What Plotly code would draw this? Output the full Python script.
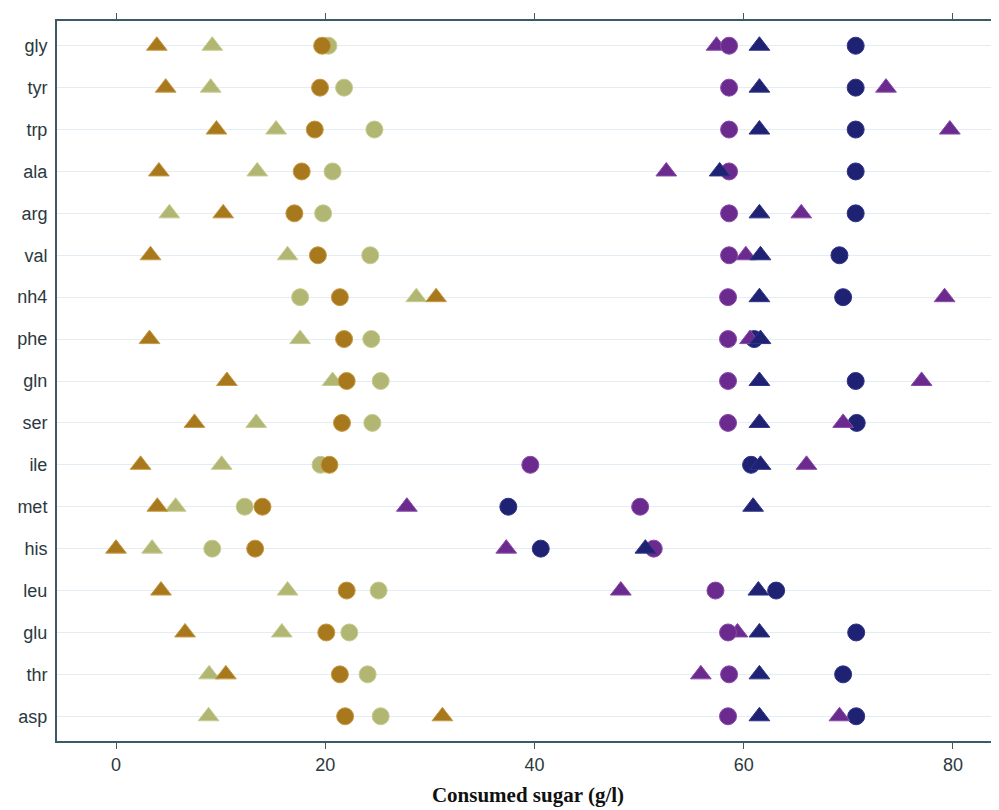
import plotly.graph_objects as go

categories = ["gly", "tyr", "trp", "ala", "arg", "val", "nh4", "phe", "gln",
              "ser", "ile", "met", "his", "leu", "glu", "thr", "asp"]

gold_tri   = [3.9, 4.75, 9.6, 4.1, 10.25, 3.3, 30.6, 3.2, 10.6, 7.5, 2.35, 3.95, 0.0, 4.3, 6.6, 10.5, 31.2]
gold_circ  = [19.7, 19.5, 19.0, 17.75, 17.05, 19.3, 21.4, 21.8, 22.05, 21.6, 20.4, 14.0, 13.3, 22.05, 20.1, 21.4, 21.9]
khaki_tri  = [9.2, 9.05, 15.3, 13.5, 5.1, 16.4, 28.7, 17.6, 20.7, 13.4, 10.1, 5.7, 3.45, 16.4, 15.85, 8.9, 8.85]
khaki_circ = [20.3, 21.8, 24.7, 20.7, 19.8, 24.3, 17.6, 24.4, 25.3, 24.5, 19.55, 12.3, 9.2, 25.1, 22.3, 24.05, 25.3]
purple_tri = [57.4, 73.6, 79.7, 52.6, 65.5, 60.2, 79.2, 60.6, 77.0, 69.5, 66.0, 27.8, 37.3, 48.25, 59.4, 55.9, 69.15]
purple_circ= [58.6, 58.6, 58.6, 58.6, 58.6, 58.6, 58.5, 58.5, 58.5, 58.5, 39.6, 50.1, 51.4, 57.3, 58.5, 58.6, 58.5]
navy_tri   = [61.5, 61.5, 61.5, 57.7, 61.5, 61.6, 61.5, 61.6, 61.5, 61.5, 61.6, 60.9, 50.6, 61.4, 61.5, 61.5, 61.5]
navy_circ  = [70.7, 70.7, 70.7, 70.7, 70.7, 69.15, 69.5, 61.0, 70.7, 70.8, 60.7, 37.5, 40.6, 63.1, 70.75, 69.5, 70.75]

x_ticks = [0, 20, 40, 60, 80]

GOLD, GOLD_L = "#A8781D", "#C69A45"
KHAKI, KHAKI_L = "#B2B673", "#C8CB8F"
PURPLE, PURPLE_L = "#6B2B8E", "#8A4AAA"
NAVY, NAVY_L = "#1F2272", "#2E3488"

series = [
    ("khaki triangle", khaki_tri, "triangle-up", KHAKI, KHAKI_L, 18),
    ("khaki circle", khaki_circ, "circle", KHAKI, KHAKI_L, 17),
    ("gold triangle", gold_tri, "triangle-up", GOLD, GOLD_L, 18),
    ("gold circle", gold_circ, "circle", GOLD, GOLD_L, 17),
    ("navy circle", navy_circ, "circle", NAVY, NAVY_L, 17),
    ("purple triangle", purple_tri, "triangle-up", PURPLE, PURPLE_L, 18),
    ("purple circle", purple_circ, "circle", PURPLE, PURPLE_L, 17),
    ("navy triangle", navy_tri, "triangle-up", NAVY, NAVY_L, 18),
]

fig = go.Figure()
for name, vals, sym, col, lcol, size in series:
    fig.add_trace(go.Scatter(
        x=vals, y=categories, mode="markers", name=name,
        marker=dict(symbol=sym, size=size, color=col, line=dict(color=lcol, width=1)),
        showlegend=False,
    ))

AX = "#3B5A66"
fig.update_layout(
    width=999, height=810,
    margin=dict(l=49, r=8, t=5, b=77),
    paper_bgcolor="white", plot_bgcolor="white",
    font=dict(family="Liberation Sans, Arial, sans-serif", size=18, color="#2B3840"),
    xaxis=dict(
        range=[-5.64, 84.4], tickvals=x_ticks, ticktext=[str(t) for t in x_ticks],
        showgrid=False, zeroline=False,
        showline=True, linecolor=AX, linewidth=2, mirror="allticks",
        ticks="outside", ticklen=6, tickcolor=AX, tickwidth=1,
        tickfont=dict(size=18, color="#2B3840"),
        title=dict(text="<b>Consumed sugar (g/l)</b>",
                   font=dict(family="Liberation Serif, Times New Roman, serif", size=21, color="#111111"),
                   standoff=14),
    ),
    yaxis=dict(
        type="category", categoryorder="array", categoryarray=categories,
        range=[16.59, -0.59],
        showgrid=True, gridcolor="#E4EDF4", gridwidth=1,
        zeroline=False, showline=True, linecolor=AX, linewidth=2,
        ticks="", tickfont=dict(size=18, color="#2B3840"), ticklabelstandoff=4,
    ),
)

fig.write_html("out.html")
